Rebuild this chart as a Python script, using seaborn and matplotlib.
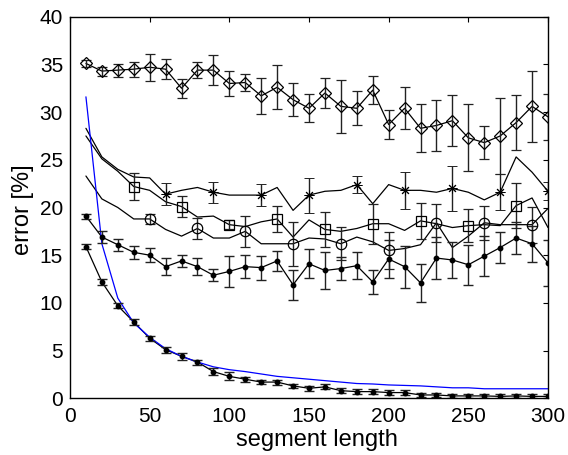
import matplotlib
matplotlib.use("Agg")
import matplotlib.pyplot as plt
import seaborn as sns
import numpy as np
import pandas as pd

# ---------------- data ----------------
seg_len = [10, 20, 30, 40, 50, 60, 70, 80, 90, 100, 110, 120, 130, 140, 150,
           160, 170, 180, 190, 200, 210, 220, 230, 240, 250, 260, 270, 280, 290, 300]

diamond_err_val = [35.1, 34.3, 34.4, 34.5, 34.7, 34.5, 32.5, 34.4, 34.4, 33.0,
                   33.1, 31.7, 32.6, 31.3, 30.4, 32.0, 30.6, 30.4, 32.3, 28.7,
                   30.4, 28.3, 28.6, 29.1, 27.3, 26.8, 27.5, 28.9, 30.6, 29.5]
diamond_sd = [0.4, 0.47, 0.68, 0.8, 1.39, 1.06, 1.0, 0.87, 1.6, 1.36,
              0.87, 1.9, 2.3, 1.7, 1.46, 1.6, 2.8, 1.8, 1.44, 1.48,
              2.2, 2.5, 2.7, 2.7, 3.5, 1.7, 4.0, 2.9, 3.7, 2.4]

star_val = [28.3, 25.3, 24.0, 23.2, 23.1, 21.4, 21.8, 22.1, 21.6, 21.3,
            21.3, 21.3, 22.1, 19.7, 21.3, 21.7, 21.8, 22.4, 20.4, 22.4,
            21.8, 21.8, 21.6, 22.0, 21.6, 20.8, 21.6, 25.3, 23.7, 21.7]
star_marker_x = [60, 90, 120, 150, 180, 210, 240, 270, 300]
star_sd = [1.17, 1.1, 1.19, 1.83, 0.87, 1.92, 2.36, 1.9, 0.94]

square_val = [27.5, 25.1, 23.8, 22.2, 21.8, 20.6, 20.1, 19.0, 19.1, 18.2,
              18.0, 18.5, 18.8, 16.9, 18.7, 17.7, 17.5, 17.8, 18.3, 18.3,
              17.6, 18.6, 18.3, 17.9, 18.1, 18.2, 18.1, 20.2, 21.0, 17.9]
square_marker_x = [40, 70, 100, 130, 160, 190, 220, 250, 280]
square_sd = [1.45, 1.12, 0.49, 1.36, 1.87, 2.1, 1.9, 1.75, 2.4]

circle_val = [23.3, 20.9, 20.0, 18.8, 18.8, 17.7, 17.0, 17.8, 16.8, 16.8,
              17.5, 16.2, 16.2, 16.2, 16.8, 16.7, 16.2, 16.9, 16.4, 15.5,
              15.7, 16.1, 18.4, 15.8, 17.0, 18.4, 18.2, 18.2, 18.2, 19.9]
circle_marker_x = [50, 80, 110, 140, 170, 200, 230, 260, 290]
circle_sd = [0.49, 1.05, 1.6, 2.3, 1.75, 1.9, 2.0, 1.8, 1.9]

dotA_val = [19.1, 16.9, 16.1, 15.3, 15.0, 13.8, 14.4, 13.8, 12.9, 13.3,
            13.8, 13.7, 14.4, 11.9, 14.1, 13.4, 13.6, 13.9, 12.2, 14.6,
            13.8, 12.1, 14.7, 14.5, 14.0, 14.9, 15.8, 16.8, 16.2, 14.2]
dotA_sd = [0.26, 0.61, 0.61, 0.66, 0.75, 0.91, 0.65, 0.91, 0.65, 1.6,
           1.22, 1.26, 1.05, 1.6, 1.5, 1.9, 1.24, 1.4, 1.3, 2.0,
           2.2, 2.0, 2.2, 1.9, 2.1, 2.1, 1.6, 1.65, 1.9, 2.4]

dotB_val = [15.9, 12.2, 9.7, 8.0, 6.3, 5.1, 4.4, 3.8, 2.8, 2.3,
            2.0, 1.7, 1.7, 1.3, 1.05, 1.2, 0.8, 0.7, 0.7, 0.6,
            0.6, 0.35, 0.35, 0.25, 0.25, 0.25, 0.2, 0.25, 0.2, 0.2]
dotB_sd = [0.25, 0.35, 0.28, 0.28, 0.25, 0.31, 0.35, 0.26, 0.35, 0.42,
           0.28, 0.24, 0.26, 0.24, 0.25, 0.25, 0.25, 0.25, 0.25, 0.25,
           0.25, 0.2, 0.2, 0.2, 0.2, 0.2, 0.2, 0.2, 0.2, 0.2]

blue_val = [31.6, 16.2, 10.5, 7.9, 6.4, 5.2, 4.4, 3.8, 3.3, 3.0,
            2.8, 2.55, 2.3, 2.15, 2.0, 1.85, 1.7, 1.55, 1.5, 1.4,
            1.35, 1.3, 1.2, 1.1, 1.1, 1.0, 1.0, 1.0, 1.0, 1.0]

x_ticks = [0, 50, 100, 150, 200, 250, 300]
y_ticks = [0, 5, 10, 15, 20, 25, 30, 35, 40]

# ---------------- style ----------------
sns.set_style("white")
plt.rcParams['font.family'] = ['Liberation Sans', 'DejaVu Sans']
plt.rcParams['text.color'] = 'black'
plt.rcParams['axes.labelcolor'] = 'black'

fig = plt.figure(figsize=(5.68, 4.55), dpi=100)
ax = fig.add_axes([70/568, (455-398.3)/455, (548-70)/568, (398.3-16.7)/455])

df = pd.DataFrame({"seg": seg_len, "diamond": diamond_err_val, "star": star_val,
                   "square": square_val, "circle": circle_val,
                   "dotA": dotA_val, "dotB": dotB_val, "blue": blue_val})

LW = 0.9
CAP = 3.6
EC = '#222222'
eb_kw = dict(ecolor=EC, elinewidth=1.0, capsize=CAP, capthick=1.0, linestyle='none')

# plain lines via seaborn
for col in ["star", "square", "circle", "dotA", "dotB", "diamond"]:
    sns.lineplot(data=df, x="seg", y=col, color='black', linewidth=LW, ax=ax, legend=False)
sns.lineplot(data=df, x="seg", y="blue", color='#0000ff', linewidth=LW, ax=ax, legend=False)

# error bars + markers
ax.errorbar(seg_len, dotA_val, yerr=dotA_sd, fmt='', marker='o', ms=3.2, mfc='black', mec='black', **eb_kw)
ax.errorbar(seg_len, dotB_val, yerr=dotB_sd, fmt='', marker='o', ms=3.2, mfc='black', mec='black', **eb_kw)
ax.errorbar(seg_len, diamond_err_val, yerr=diamond_sd, fmt='', marker='D', ms=6, mfc='none',
            mec='black', mew=0.9, **eb_kw)

def sub(vals, xs):
    return [vals[seg_len.index(v)] for v in xs]

ax.errorbar(star_marker_x, sub(star_val, star_marker_x), yerr=star_sd, fmt='', marker=(8, 2, 0),
            ms=7, mfc='none', mec='black', mew=0.7, **eb_kw)
ax.errorbar(square_marker_x, sub(square_val, square_marker_x), yerr=square_sd, fmt='', marker='s',
            ms=6.5, mfc='none', mec='black', mew=0.9, **eb_kw)
ax.errorbar(circle_marker_x, sub(circle_val, circle_marker_x), yerr=circle_sd, fmt='', marker='o',
            ms=7.5, mfc='none', mec='black', mew=0.9, **eb_kw)

ax.set_xlim(0, 300)
ax.set_ylim(0, 40)
ax.set_xticks(x_ticks)
ax.set_yticks(y_ticks)
ax.tick_params(direction='in', length=3.6, width=0.8, top=True, right=True,
               labelsize=15, colors='black', labelcolor='black')
ax.tick_params(axis='y', pad=5)
ax.tick_params(axis='x', pad=6)
for s in ax.spines.values():
    s.set_visible(True)
    s.set_color('black')
    s.set_linewidth(1.0)
ax.set_xlabel("segment length", fontsize=17, va='center', ha='center', color='black')
ax.xaxis.set_label_coords((316.5 - 70) / 478, (398.3 - 440) / 381.6)
ax.set_ylabel("error [%]", fontsize=17, va='center', ha='center', color='black')
ax.yaxis.set_label_coords((23 - 70) / 478, (398.3 - 210) / 381.6)
ax.grid(False)

fig.savefig("out.png", dpi=100)
